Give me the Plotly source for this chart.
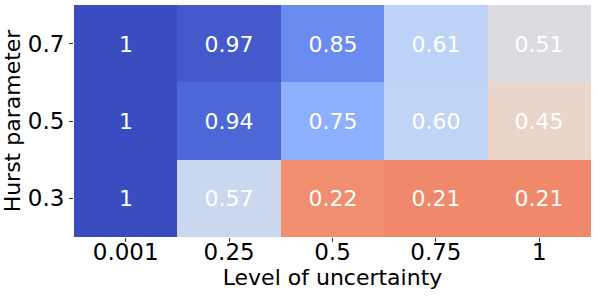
import plotly.graph_objects as go

uncertainty = ["0.001", "0.25", "0.5", "0.75", "1"]
hurst = ["0.3", "0.5", "0.7"]  # bottom to top
z_h03 = [1.00, 0.57, 0.22, 0.21, 0.21]
z_h05 = [1.00, 0.94, 0.75, 0.60, 0.45]
z_h07 = [1.00, 0.97, 0.85, 0.61, 0.51]
lbl_h03 = ["1", "0.57", "0.22", "0.21", "0.21"]
lbl_h05 = ["1", "0.94", "0.75", "0.60", "0.45"]
lbl_h07 = ["1", "0.97", "0.85", "0.61", "0.51"]

# Moreland cool-warm table (matplotlib coolwarm), reversed
cw = [
    (59, 76, 192), (68, 90, 204), (77, 104, 215), (87, 117, 225), (98, 130, 234),
    (108, 142, 241), (119, 154, 247), (130, 165, 251), (141, 176, 254), (152, 185, 255),
    (163, 194, 255), (174, 201, 253), (184, 208, 249), (194, 213, 244), (204, 217, 238),
    (213, 219, 230), (221, 221, 221), (229, 216, 209), (236, 211, 197), (241, 204, 185),
    (245, 196, 173), (247, 187, 160), (247, 177, 148), (247, 166, 135), (244, 154, 123),
    (241, 141, 111), (236, 127, 99), (229, 112, 88), (222, 96, 77), (213, 80, 66),
    (203, 62, 56), (192, 40, 47), (180, 4, 38),
]
n = len(cw)
colorscale = [[i / (n - 1), "rgb(%d,%d,%d)" % cw[n - 1 - i]] for i in range(n)]

z = [z_h03, z_h05, z_h07]
labels = [lbl_h03, lbl_h05, lbl_h07]

fig = go.Figure(go.Heatmap(
    x=uncertainty, y=hurst, z=z, text=labels,
    texttemplate="%{text}",
    textfont=dict(family="DejaVu Sans", size=22, color="white"),
    colorscale=colorscale, zmin=0, zmax=1, showscale=False,
    hoverinfo="skip",
))

fig.update_layout(
    width=598, height=297,
    margin=dict(l=74, r=7, t=5, b=60),
    paper_bgcolor="white", plot_bgcolor="white",
    font=dict(family="DejaVu Sans", size=23, color="black"),
)
fig.update_xaxes(
    type="category", automargin=False,
    title=dict(text="Level of uncertainty", font=dict(size=22), standoff=0),
    ticks="outside", ticklen=4, tickcolor="#333", tickfont=dict(size=23),
    ticklabelstandoff=-10,
    showgrid=False, zeroline=False, showline=False,
)
fig.update_yaxes(
    type="category", automargin=False,
    title=dict(text="Hurst parameter", font=dict(size=22), standoff=2),
    ticks="outside", ticklen=4, tickcolor="#333", tickfont=dict(size=23),
    showgrid=False, zeroline=False, showline=False,
)

fig.write_html("out.html", config={"displayModeBar": False},
               post_script="document.body.style.margin='0';document.body.style.overflow='hidden';")
